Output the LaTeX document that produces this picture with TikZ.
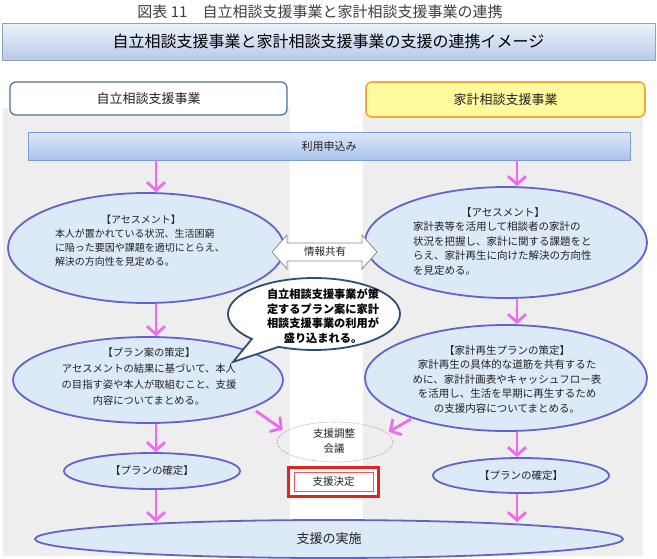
\documentclass[tikz,border=0pt]{standalone}
\usepackage{fontspec}
\setmainfont{Noto Sans CJK JP}
\usetikzlibrary{arrows.meta,shapes.geometric,shapes.callouts}
\definecolor{ellfill}{HTML}{DCE9F6}
\definecolor{elldraw}{HTML}{6464C8}
\definecolor{pinkc}{HTML}{EE6AEE}
\definecolor{panelc}{HTML}{EEEEEE}
\definecolor{txtc}{HTML}{222222}
\definecolor{redc}{HTML}{E02424}
\definecolor{hdrblue}{HTML}{4F6F96}
\definecolor{yellowc}{HTML}{FFFA9C}
\definecolor{orangec}{HTML}{F2A93B}
\definecolor{bubbledraw}{HTML}{2F4E73}
\definecolor{bantop}{HTML}{EEF3FA}
\definecolor{banbot}{HTML}{B7CBE8}
\definecolor{bartop}{HTML}{DDE8F8}
\definecolor{barbot}{HTML}{A9C2EA}
\definecolor{barline}{HTML}{7D9DD2}
\tikzset{
  ell/.style={ellipse, fill=ellfill, draw=elldraw, line width=1.8pt, inner sep=0pt},
  pk/.style={draw=pinkc, line width=2.8pt, -{Straight Barb[length=8pt,width=18pt]}},
  body/.style={text=txtc, inner sep=0pt, font=\fontsize{10.5}{14.5}\selectfont},
}
\begin{document}
\begin{tikzpicture}[x=1pt,y=-1pt]
\fill[white] (0,0) rectangle (657,558);
\useasboundingbox (0,0) rectangle (657,558);

% title
\node[text=black!75, font=\fontsize{15}{17}\selectfont, inner sep=0pt] (title) at (320,12) {図表 11　自立相談支援事業と家計相談支援事業の連携};

% banner
\node[top color=bantop, bottom color=banbot, draw=banbot!80!black, line width=0.5pt,
      minimum width=653pt, minimum height=37pt, inner sep=0pt,
      font=\fontsize{16}{18}\selectfont, text=black] (banner) at (328.5,41.5) {自立相談支援事業と家計相談支援事業の支援の連携イメージ};

% gray panels
\fill[panelc] (3,108) rectangle (290,556);
\fill[panelc] (363,112) rectangle (643,556);

% headers
\node[draw=hdrblue, fill=white, rounded corners=6pt, line width=1.2pt,
      minimum width=277pt, minimum height=33pt, inner sep=0pt,
      font=\fontsize{13}{15}\selectfont, text=txtc] (lhead) at (148.5,98.5) {自立相談支援事業};
\node[draw=orangec, fill=yellowc, rounded corners=6pt, line width=1.6pt,
      minimum width=279pt, minimum height=35pt, inner sep=0pt,
      font=\fontsize{13}{15}\selectfont, text=txtc] (rhead) at (505.5,99.5) {家計相談支援事業};

% application bar
\node[top color=bartop, bottom color=barbot, draw=barline, line width=0.8pt,
      minimum width=602pt, minimum height=28pt, inner sep=0pt,
      font=\fontsize{11}{13}\selectfont, text=txtc] (bar) at (329,146) {利用申込み};

% ellipses
\node[ell, minimum width=276pt, minimum height=110pt] (lassess) at (146,248) {};
\node[ell, minimum width=282pt, minimum height=111pt] (rassess) at (506,242.5) {};
\node[ell, minimum width=270pt, minimum height=86pt] (lplan) at (148,380) {};
\node[ell, minimum width=282pt, minimum height=106pt] (rplan) at (506,378) {};
\node[ell, minimum width=176pt, minimum height=36pt] (lconf) at (152,471) {};
\node[ell, minimum width=176pt, minimum height=35pt] (rconf) at (521,475.5) {};
\node[ell, minimum width=588pt, minimum height=38pt] (impl) at (329,539) {};
\node[ellipse, draw=black!45, densely dotted, line width=0.6pt, minimum width=116pt,
      minimum height=40pt, inner sep=0pt] (meeting) at (335,442) {};

% ellipse texts
\node[body, text width=172pt, align=left, font=\fontsize{10}{14}\selectfont] (lassesst) at (141,241)
  {\makebox[\linewidth]{【アセスメント】}\\本人が置かれている状況、生活困窮\\に陥った要因や課題を適切にとらえ、\\解決の方向性を見定める。};
\node[body, text width=180pt, align=left] (rassesst) at (503,241)
  {\makebox[\linewidth]{【アセスメント】}\\家計表等を活用して相談者の家計の\\状況を把握し、家計に関する課題をと\\らえ、家計再生に向けた解決の方向性\\を見定める。};
\node[body, align=center, font=\fontsize{10.3}{16}\selectfont] (lplant) at (149,377)
  {【プラン案の策定】\\アセスメントの結果に基づいて、本人\\の目指す姿や本人が取組むこと、支援\\内容についてまとめる。};
\node[body, align=center, font=\fontsize{10.5}{14.5}\selectfont] (rplant) at (507,379)
  {【家計再生プランの策定】\\家計再生の具体的な道筋を共有するた\\めに、家計計画表やキャッシュフロー表\\を活用し、生活を早期に再生するため\\の支援内容についてまとめる。};
\node[body] (lconft) at (lconf.center) {【プランの確定】};
\node[body] (rconft) at (rconf.center) {【プランの確定】};
\node[body, font=\fontsize{13}{15}\selectfont] (implt) at (impl.center) {支援の実施};
\node[body, align=center, font=\fontsize{10.5}{15}\selectfont] (meetingt) at (334,441) {支援調整\\会議};

% decision box
\node[draw=redc, line width=2.6pt, fill=white, minimum width=90pt, minimum height=29pt, inner sep=0pt] (decide) at (333.5,482) {};
\node[draw=redc!75, line width=0.7pt, minimum width=79pt, minimum height=19pt, inner sep=0pt,
      font=\fontsize{10.5}{12}\selectfont, text=txtc] (decidet) at (decide.center) {支援決定};

% information sharing double arrow
\draw[fill=white, draw=black!45, line width=0.8pt]
  (272,252) -- (287,235) -- (287,243) -- (362,243) -- (362,235) -- (377,252)
  -- (362,269) -- (362,261) -- (287,261) -- (287,269) -- cycle;
\node[body, font=\fontsize{10.5}{12}\selectfont] (share) at (325,252) {情報共有};

% speech bubble
\node[ellipse callout, draw=bubbledraw, line width=1.8pt, fill=white,
      minimum width=172pt, minimum height=72pt, inner sep=0pt,
      callout absolute pointer={(233,362)}, callout pointer arc=22] (bubble) at (314,314) {};
\node[inner sep=0pt, align=center, text=black, font=\bfseries\fontsize{11.2}{14.5}\selectfont] (bubblet) at (323,316)
  {自立相談支援事業が策\\定するプラン案に家計\\相談支援事業の利用が\\盛り込まれる。};

% arrows
\coordinate (lcol) at (156,0);
\coordinate (rcol) at (517,0);
\draw[pk] (lcol |- bar.south) -- (lcol |- lassess.north);
\draw[pk] (lcol |- lassess.south) -- (lcol |- lplan.north);
\draw[pk] (lcol |- lplan.south) -- (lcol |- lconf.north);
\draw[pk, shorten >=-3pt] (lcol |- lconf.south) -- (lcol |- impl.north);
\draw[pk] (rcol |- bar.south) -- (rcol |- rassess.north);
\draw[pk] (rcol |- rassess.south) -- (rcol |- rplan.north);
\draw[pk] (rcol |- rplan.south) -- (rcol |- rconf.north);
\draw[pk, shorten >=-3pt] (rcol |- rconf.south) -- (rcol |- impl.north);
\coordinate (ldiag) at (256,411);
\coordinate (rdiag) at (411,419);
\draw[pk, shorten >=3pt] (ldiag) -- (meeting.168);
\draw[pk, shorten >=2pt] (rdiag) -- (meeting.10);
\end{tikzpicture}
\end{document}
